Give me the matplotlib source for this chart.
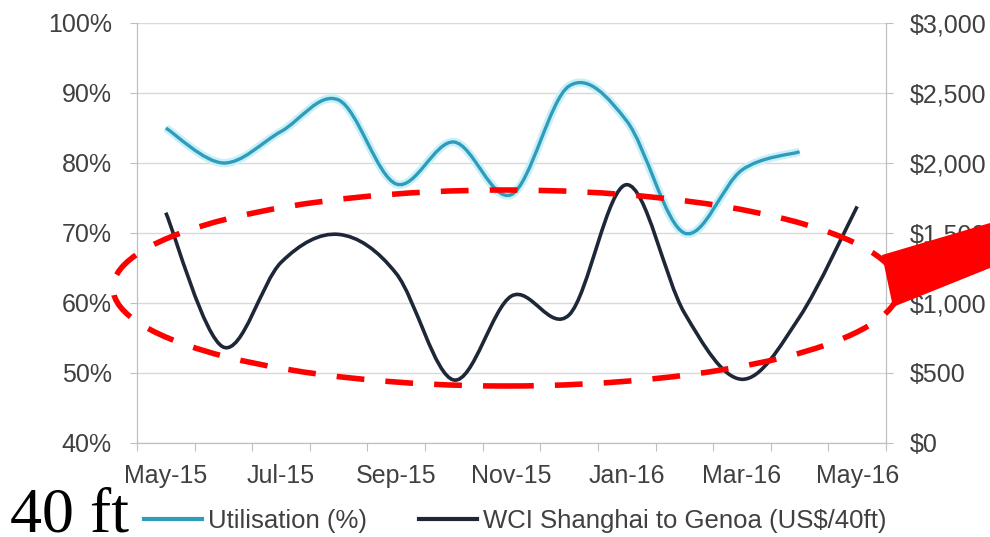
import numpy as np
import matplotlib
matplotlib.use("Agg")
import matplotlib.pyplot as plt
from matplotlib.path import Path
from matplotlib.patches import PathPatch, Ellipse, Polygon
from matplotlib.lines import Line2D
from matplotlib.ticker import FuncFormatter

# values, one per month May-15 .. May-16
months = ["May-15", "Jun-15", "Jul-15", "Aug-15", "Sep-15", "Oct-15", "Nov-15",
          "Dec-15", "Jan-16", "Feb-16", "Mar-16", "Apr-16", "May-16"]
utilisation = [85.0, 80.0, 84.5, 89.0, 77.0, 83.0, 75.5, 91.0, 86.0, 70.0, 79.0, 81.6]
wci_rate = [1645, 685, 1290, 1490, 1210, 450, 1050, 915, 1845, 930, 455, 900, 1690]
tick_months = ["May-15", "Jul-15", "Sep-15", "Nov-15", "Jan-16", "Mar-16", "May-16"]

plt.rcParams['font.family'] = ['Liberation Sans', 'DejaVu Sans']
TXT = '#404040'
TEAL = '#2f9cba'
NAVY = '#1d2738'
RED = '#ff0000'


def smooth_path(xs, ys):
    # excel-style smoothed line: cubic bezier through every point
    P = np.column_stack([xs, ys]).astype(float)
    n = len(P)
    verts = [P[0]]
    codes = [Path.MOVETO]
    for i in range(n - 1):
        p0 = P[max(i - 1, 0)]
        p3 = P[min(i + 2, n - 1)]
        c1 = P[i] + (P[i + 1] - p0) / 6.0
        c2 = P[i + 1] - (p3 - P[i]) / 6.0
        verts += [c1, c2, P[i + 1]]
        codes += [Path.CURVE4] * 3
    return Path(verts, codes)


fig = plt.figure(figsize=(9.9, 5.37), dpi=100)
ax = fig.add_axes([137 / 990, 1 - 443 / 537, (886 - 137) / 990, (443 - 23) / 537])
ax2 = ax.twinx()

ax.set_xlim(0, len(months))
ax.set_ylim(40, 100)
ax2.set_ylim(0, 3000)

x_util = np.arange(len(utilisation)) + 0.5
x_wci = np.arange(len(wci_rate)) + 0.5

# gridlines
for v in range(40, 101, 10):
    ax.axhline(v, color='#d9d9d9', lw=1.0, zorder=0)

ax.add_patch(PathPatch(smooth_path(x_util, utilisation), fill=False, ec='#c9f0f9', lw=6, zorder=2))
ax.add_patch(PathPatch(smooth_path(x_util, utilisation), fill=False, ec=TEAL, lw=2.4, zorder=3))
ax2.add_patch(PathPatch(smooth_path(x_wci, wci_rate), fill=False, ec=NAVY, lw=2.6, zorder=3))

# axes styling
for a in (ax, ax2):
    for s in a.spines.values():
        s.set_color('#bfbfbf')
    a.spines['top'].set_visible(False)

ax.set_xticks(np.arange(0, len(months) + 1))
ax.set_xticklabels([])
ax.set_xticks(np.arange(0, len(months), 2) + 0.5, minor=True)
ax.set_xticklabels(tick_months, minor=True)
ax.tick_params(axis='x', which='major', length=6, color='#bfbfbf', direction='out')
ax.tick_params(axis='x', which='minor', length=0, pad=15, labelsize=18, labelcolor=TXT)

ax.set_yticks(range(40, 101, 10))
ax.yaxis.set_major_formatter(FuncFormatter(lambda v, p: f"{v:.0f}%"))
ax.tick_params(axis='y', length=5, color='#bfbfbf', pad=13, labelsize=18, labelcolor=TXT)

ax2.set_yticks(range(0, 3001, 500))
ax2.yaxis.set_major_formatter(FuncFormatter(lambda v, p: f"${v:,.0f}"))
ax2.tick_params(axis='y', length=5, color='#bfbfbf', pad=12, labelsize=18, labelcolor=TXT)

# legend
handles = [Line2D([], [], color=TEAL, lw=3), Line2D([], [], color=NAVY, lw=3)]
fig.legend(handles, ["Utilisation (%)", "WCI Shanghai to Genoa (US$/40ft)"],
           loc='center left', bbox_to_anchor=(121 / 990, 1 - 521 / 537), ncol=2,
           frameon=False, fontsize=18.5, handlelength=2.25, handletextpad=0.25,
           columnspacing=2.0, labelcolor=TXT)

# red annotation overlay
ell = Ellipse((506 / 990, 1 - 288 / 537), 786 / 990, 196 / 537, transform=fig.transFigure,
              fill=False, ec=RED, lw=4, linestyle=(0, (5, 3.8)), zorder=10)
fig.patches.append(ell)
arrow_px = [(882, 255), (893, 307), (990, 268), (990, 223)]
arrow = Polygon([(px / 990, 1 - py / 537) for px, py in arrow_px], closed=True,
                transform=fig.transFigure, fc=RED, ec='none', zorder=11)
fig.patches.append(arrow)

fig.text(10 / 990, 1 - 531 / 537, "40 ft", family=['Liberation Serif', 'DejaVu Serif'],
         fontsize=46, color='black', va='baseline', ha='left')

fig.savefig("out.png", dpi=100)
